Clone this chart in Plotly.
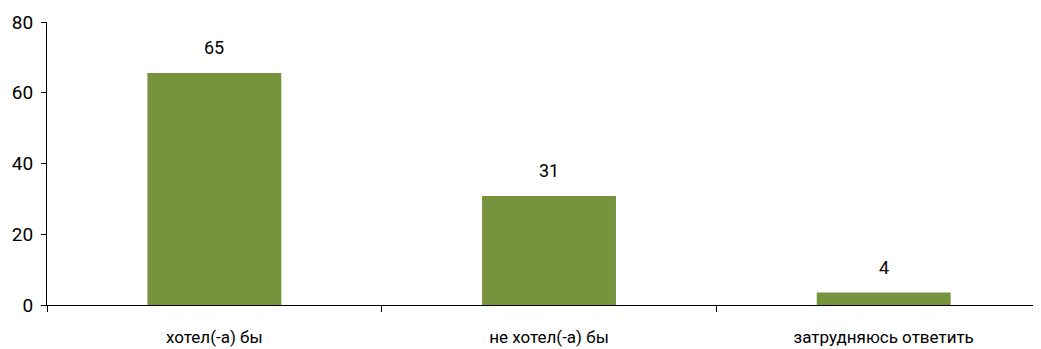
import plotly.graph_objects as go

categories = ["хотел(-а) бы", "не хотел(-а) бы", "затрудняюсь ответить"]
values = [65.6, 30.8, 3.5]
labels = ["65", "31", "4"]
y_ticks = [0, 20, 40, 60, 80]

FONT = "Roboto"
fig = go.Figure()
fig.add_trace(go.Bar(
    x=categories, y=values, width=0.4,
    marker=dict(color="#77933C", line=dict(width=0)),
    hoverinfo="skip",
))
for c, v, t in zip(categories, values, labels):
    fig.add_annotation(x=c, y=v, text=t, showarrow=False, yanchor="bottom",
                       yshift=13, font=dict(family=FONT, size=18, color="#000"))

# page body has an 8px margin; compensate so the plot area lands where the reference has it
fig.update_layout(
    width=1033, height=341,
    margin=dict(l=39, r=0, t=14, b=44),
    paper_bgcolor="white", plot_bgcolor="white",
    showlegend=False, bargap=0.6,
    font=dict(family=FONT, size=17, color="#000"),
)
fig.update_xaxes(
    range=[-0.5, 2.47], showline=True, linecolor="black", linewidth=1,
    ticks="outside", tickson="boundaries", ticklen=6, tickcolor="black",
    showgrid=False, zeroline=False, automargin=False, ticklabelstandoff=17,
    tickfont=dict(family=FONT, size=17, color="#000"),
)
fig.update_yaxes(
    range=[0, 80], tickvals=y_ticks, showline=True, linecolor="black", linewidth=1,
    ticks="outside", ticklen=5, tickcolor="black", showgrid=False, zeroline=False,
    automargin=False, ticklabelstandoff=4,
    tickfont=dict(family=FONT, size=19, color="#000"),
)
fig.write_html("out.html")
